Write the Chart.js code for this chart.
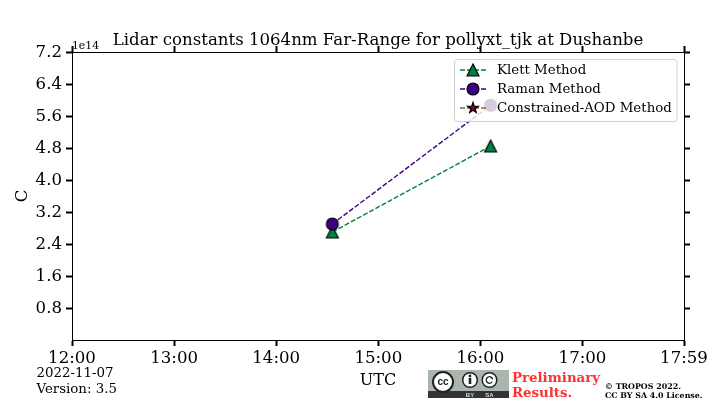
<!DOCTYPE html>
<html><head><meta charset="utf-8">
<style>html,body{margin:0;padding:0;background:#fff}#w{width:720px;height:400px}</style>
<script src="https://cdn.jsdelivr.net/npm/chart.js@4/dist/chart.umd.min.js"></script>
</head><body><div id="w"><canvas id="c" width="720" height="400"></canvas></div>
<script>
const xTicks = [12,13,14,15,16,17,17.994];
const xLabels = ['12:00','13:00','14:00','15:00','16:00','17:00','17:59'];
const yTicks = [0.8e14,1.6e14,2.4e14,3.2e14,4.0e14,4.8e14,5.6e14,6.4e14,7.2e14];
const yLabels = ['0.8','1.6','2.4','3.2','4.0','4.8','5.6','6.4','7.2'];
const times = [14.55,16.1];
const klett = [2.7e14,4.85e14];
const raman = [2.9e14,5.87e14];
const constrained = [];
const seriesNames = ['Klett Method','Raman Method','Constrained-AOD Method'];
const titleText = 'Lidar constants 1064nm Far-Range for pollyxt_tjk at Dushanbe';
const F = 'DejaVu Serif';

function marker(kind, fill){
  const s=18, c=document.createElement('canvas'); c.width=c.height=s;
  const g=c.getContext('2d'), m=s/2;
  g.fillStyle=fill; g.strokeStyle='#000'; g.lineWidth=1.15; g.lineJoin='miter';
  g.beginPath();
  if(kind==='tri'){ g.moveTo(m,m-6); g.lineTo(m+6,m+6); g.lineTo(m-6,m+6); g.closePath(); }
  else if(kind==='circle'){ g.arc(m,m,6,0,Math.PI*2); }
  else { for(let i=0;i<10;i++){ const r=i%2?2.2:5.6, a=-Math.PI/2+i*Math.PI/5;
    g.lineTo(m+r*Math.cos(a),m+r*Math.sin(a)); } g.closePath(); }
  g.fill(); g.stroke();
  return c;
}
const mk = [marker('tri','#008040'),marker('circle','#3f007f'),marker('star','#800040')];
const lineCols = ['#008040','#3f007f','#a0622d'];
const pts = v => v.map((y,i)=>({x:times[i],y}));

const decor = {
  id:'decor',
  beforeDraw(chart){
    // matplotlib centres the y tick labels one pixel lower than canvas "middle"
    chart.scales.y.getLabelItems(chart.chartArea).forEach(it=>{
      if(!it.options.nudged){ it.options.translation[1]+=1; it.options.nudged=true; }
    });
  },
  afterDraw(chart){
    const g=chart.ctx; g.save();
    g.beginPath(); g.roundRect(454.5,59.5,222.5,62,3);
    g.fillStyle='rgba(255,255,255,0.8)'; g.fill();
    g.strokeStyle='#d0d0d0'; g.lineWidth=1; g.stroke();
    const rows=[70,89,108];
    chart.data.datasets.forEach((d,i)=>{
      const y=rows[i];
      g.strokeStyle=lineCols[i]; g.lineWidth=1.5; g.setLineDash([5,2]);
      g.beginPath(); g.moveTo(460,y); g.lineTo(486,y); g.stroke(); g.setLineDash([]);
      g.drawImage(mk[i],473-9,y-9);
      g.fillStyle='#000'; g.font='13.35px "'+F+'"'; g.textAlign='left'; g.textBaseline='middle';
      g.fillText(d.label,497,y+1);
    });
    g.fillStyle='#000'; g.font='10.8px "'+F+'"'; g.textBaseline='alphabetic';
    g.fillText('1e14',72,49);
    g.font='13.35px "'+F+'"';
    g.fillText('2022-11-07',36.5,377);
    g.fillText('Version: 3.5',36.5,393);
    g.fillStyle='#ff3030'; g.font='bold 13.35px "'+F+'"';
    g.fillText('Preliminary',512,382);
    g.fillText('Results.',512,397);
    g.fillStyle='#000'; g.font='bold 7.9px "'+F+'"';
    g.fillText('\u00A9 TROPOS 2022.',605,389);
    g.fillText('CC BY SA 4.0 License.',605,398);
    g.fillStyle='#aab5ae'; g.fillRect(428,370,81,21);
    g.fillStyle='#333'; g.fillRect(428,391,81,7);
    g.fillStyle='#fff'; g.strokeStyle='#222'; g.lineWidth=2;
    g.beginPath(); g.arc(443,382,10,0,Math.PI*2); g.fill(); g.stroke();
    g.beginPath(); g.arc(470,380,7.3,0,Math.PI*2); g.fill(); g.lineWidth=1.5; g.stroke();
    g.beginPath(); g.arc(489.5,380,7.3,0,Math.PI*2); g.fill(); g.stroke();
    g.fillStyle='#222'; g.font='bold 10px "Liberation Sans"'; g.textAlign='center'; g.textBaseline='middle';
    g.fillText('cc',443,382);
    g.fillRect(468.7,378,2.6,6); g.beginPath(); g.arc(470,376,1.4,0,Math.PI*2); g.fill();
    g.lineWidth=1.4; g.beginPath(); g.arc(489.5,380,3.2,0.6,Math.PI*2-0.2); g.stroke();
    g.fillStyle='#ddd'; g.font='bold 6px "Liberation Sans"';
    g.fillText('BY',470,395); g.fillText('SA',489.5,395);
    g.restore();
  }
};
const setX = s => { s.ticks = xTicks.map(v=>({value:v})); };
const setY = s => { s.ticks = yTicks.map(v=>({value:v})); };
const tickFont = {family:F,size:16.6};
const grid = {display:true,drawOnChartArea:false,drawTicks:true,tickLength:6,tickWidth:2,tickColor:'#000'};
const border = {display:true,color:'#000',width:1};

new Chart(document.getElementById('c'),{
  type:'line',
  data:{datasets:[
    {label:seriesNames[0],data:pts(klett),borderColor:lineCols[0],backgroundColor:lineCols[0],borderWidth:1.4,borderDash:[5,2],pointStyle:mk[0],order:3,tension:0,fill:false},
    {label:seriesNames[1],data:pts(raman),borderColor:lineCols[1],backgroundColor:lineCols[1],borderWidth:1.4,borderDash:[5,2],pointStyle:mk[1],order:2,tension:0,fill:false},
    {label:seriesNames[2],data:constrained,borderColor:lineCols[2],backgroundColor:lineCols[2],borderWidth:1.4,borderDash:[5,2],pointStyle:mk[2],order:1,tension:0,fill:false}
  ]},
  options:{
    responsive:false,animation:false,devicePixelRatio:1,
    layout:{padding:{left:0,right:30,top:0,bottom:0}},
    plugins:{
      legend:{display:false},tooltip:{enabled:false},
      title:{display:true,text:titleText,fullSize:false,color:'#000',
        font:{family:F,size:16.6,weight:'normal',lineHeight:1},padding:{top:32,bottom:-2.6}}
    },
    scales:{
      x:{type:'linear',position:'bottom',min:12,max:17.994,
        afterBuildTicks:setX,afterFit:s=>{s.height=60;},grid,border,
        ticks:{autoSkip:false,maxRotation:0,color:'#000',font:tickFont,padding:3,
          callback:v=>xLabels[xTicks.indexOf(v)]},
        title:{display:true,text:'UTC',color:'#000',font:{family:F,size:16},padding:9.5}},
      x2:{type:'linear',position:'top',min:12,max:17.994,
        afterBuildTicks:setX,afterFit:s=>{s.height=6;},grid,border,
        ticks:{display:false,autoSkip:false}},
      y:{type:'linear',position:'left',min:0,max:7.2e14,
        afterBuildTicks:setY,afterFit:s=>{s.width=72;},grid,border,
        ticks:{autoSkip:false,color:'#000',font:tickFont,padding:4,
          callback:v=>yLabels[yTicks.indexOf(v)]},
        title:{display:true,text:'C',color:'#000',font:tickFont,padding:13}},
      y2:{type:'linear',position:'right',min:0,max:7.2e14,
        afterBuildTicks:setY,afterFit:s=>{s.width=6;},grid,border,
        ticks:{display:false,autoSkip:false}}
    }
  },
  plugins:[decor]
});
</script></body></html>
